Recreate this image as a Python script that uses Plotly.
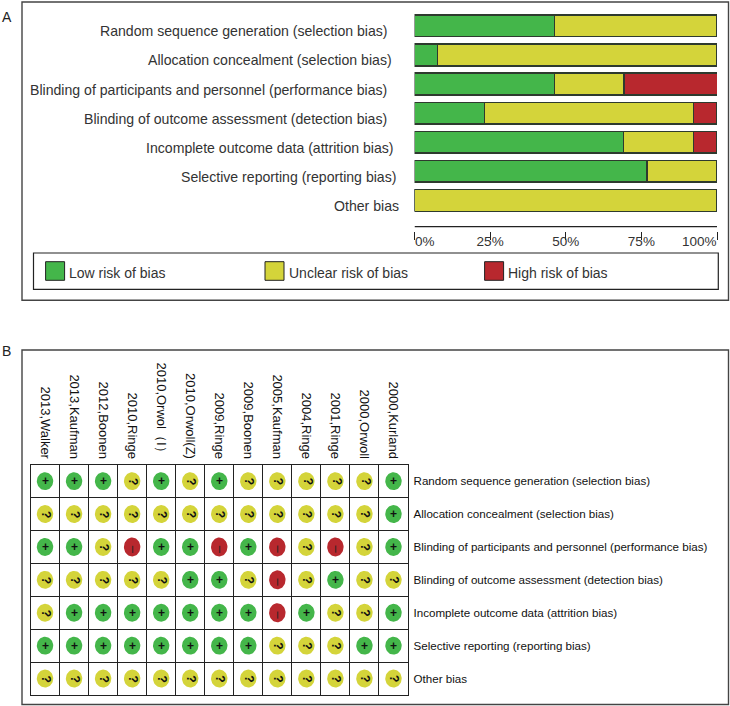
import numpy as np
import plotly.graph_objects as go

W, H = 730, 706

domains = [
    "Random sequence generation (selection bias)",
    "Allocation concealment (selection bias)",
    "Blinding of participants and personnel (performance bias)",
    "Blinding of outcome assessment (detection bias)",
    "Incomplete outcome data (attrition bias)",
    "Selective reporting (reporting bias)",
    "Other bias",
]
low_pct = [46.2, 7.7, 46.2, 23.1, 69.2, 76.9, 0]
unclear_pct = [53.8, 92.3, 23.1, 69.2, 23.1, 23.1, 100]
high_pct = [0, 0, 30.8, 7.7, 7.7, 0, 0]
studies = ["2013,Walker", "2013,Kaufman", "2012,Boonen", "2010,Ringe", "2010,Orwol（Ⅰ）",
           "2010,Orwoll(Z)", "2009,Ringe", "2009,Boonen", "2005,Kaufman", "2004,Ringe",
           "2001,Ringe", "2000,Orwoll", "2000,Kurland"]
judgements = [
    "+ + + ? + ? + ? ? ? ? ? +".split(),
    "? ? ? ? ? ? ? ? ? ? ? ? +".split(),
    "+ + ? - + + - + - ? - ? +".split(),
    "? ? ? ? ? + + ? - ? + ? ?".split(),
    "? + + + + + + + - + ? ? +".split(),
    "+ + + + + + + + ? ? ? + +".split(),
    "? ? ? ? ? ? ? ? ? ? ? ? ?".split(),
]
legend_names = ["Low risk of bias", "Unclear risk of bias", "High risk of bias"]
pct_ticks = [0, 25, 50, 75, 100]

GREEN, YELLOW, RED = "#44B64A", "#D4D43A", "#B8282E"
DARK = "#333333"
FONT = "Liberation Sans"


def px(x):
    return x / W


def py(y):
    return 1 - y / H


fig = go.Figure()

# Panel A: stacked bars
for vals, col, name in zip((low_pct, unclear_pct, high_pct), (GREEN, YELLOW, RED), legend_names):
    fig.add_trace(go.Bar(y=domains, x=vals, orientation="h", name=name, xaxis="x", yaxis="y",
                         marker=dict(color=col, line=dict(color="#2E3A2E", width=1.3)),
                         showlegend=False, hoverinfo="x+y"))

# Panel B: ellipses + glyphs
RX, RY = 0.283, 0.272
t = np.linspace(0, 2 * np.pi, 49)
for code, col, ry in (("+", GREEN, RY), ("?", YELLOW, RY), ("-", RED, RY * 1.06)):
    xs, ys = [], []
    for r, row in enumerate(judgements):
        for c, v in enumerate(row):
            if v == code:
                xs += list(c + RX * np.cos(t)) + [None]
                ys += list(r + ry * np.sin(t)) + [None]
    fig.add_trace(go.Scatter(x=xs, y=ys, mode="lines", fill="toself", fillcolor=col,
                             line=dict(width=0), xaxis="x2", yaxis="y2",
                             showlegend=False, hoverinfo="skip"))

anns = []
for r, row in enumerate(judgements):
    for c, v in enumerate(row):
        if v == "+":
            anns.append(dict(x=c, y=r, xref="x2", yref="y2", text="<b>+</b>", showarrow=False,
                             font=dict(size=12, color="#111", family=FONT)))
        elif v == "?":
            anns.append(dict(x=c, y=r, xshift=1, xref="x2", yref="y2", text="<b>?</b>", showarrow=False,
                             textangle=90, font=dict(size=12, color="#111", family=FONT)))
        else:
            anns.append(dict(x=c, y=r, xshift=1, yshift=-3, xref="x2", yref="y2", text="–", showarrow=False,
                             textangle=90, font=dict(size=13, color="#222", family=FONT)))

# Panel A row labels (right edges are uneven in the reference)
label_right = [390, 393.5, 389, 389, 395.5, 398, 400.5]
for name, xr in zip(domains, label_right):
    anns.append(dict(x=px(xr), y=name, xref="paper", yref="y", xanchor="right", text=name, showarrow=False,
                     yshift=-5.5, font=dict(size=14.1, color=DARK, family=FONT)))

# Axis end labels
anns.append(dict(x=0, y=py(241.5), xref="x", yref="paper", xanchor="left", yanchor="middle", text="0%",
                 showarrow=False, xshift=-2, font=dict(size=13.5, color=DARK, family=FONT)))
anns.append(dict(x=100, y=py(241.5), xref="x", yref="paper", xanchor="right", yanchor="middle", text="100%",
                 showarrow=False, xshift=2, font=dict(size=13.5, color=DARK, family=FONT)))

# Panel letters
anns.append(dict(x=px(0), y=py(7), xref="paper", yref="paper", xanchor="left", text="A", showarrow=False,
                 font=dict(size=14, color="#222", family=FONT)))
anns.append(dict(x=px(0), y=py(351), xref="paper", yref="paper", xanchor="left", text="B", showarrow=False,
                 font=dict(size=14, color="#222", family=FONT)))

shapes = [
    dict(type="rect", xref="paper", yref="paper", x0=px(22), x1=px(728.5), y0=py(2), y1=py(300.3),
         line=dict(color="#444", width=1.4)),
    dict(type="rect", xref="paper", yref="paper", x0=px(22), x1=px(728.5), y0=py(350), y1=py(704.5),
         line=dict(color="#444", width=1.4)),
    dict(type="rect", xref="paper", yref="paper", x0=px(33.5), x1=px(718.3), y0=py(253), y1=py(289.3),
         line=dict(color="#222", width=1.2)),
    dict(type="line", xref="x", yref="paper", x0=0, x1=100, y0=py(226.7), y1=py(226.7),
         line=dict(color="#222", width=1.2)),
]

# Legend of panel A
for name, col, x0 in zip(legend_names, (GREEN, YELLOW, RED), (45.6, 265, 484.6)):
    shapes.append(dict(type="rect", xref="paper", yref="paper", x0=px(x0), x1=px(x0 + 19),
                       y0=py(261.7), y1=py(280.3), fillcolor=col, line=dict(color="#222", width=1)))
    anns.append(dict(x=px(x0 + 21.5), y=py(273), xref="paper", yref="paper", xanchor="left", yanchor="middle",
                     text=name, showarrow=False, font=dict(size=14, color=DARK, family=FONT)))

n_cols, n_rows = len(studies), len(domains)
fig.update_layout(
    width=W, height=H, margin=dict(l=0, r=0, t=0, b=0),
    paper_bgcolor="white", plot_bgcolor="white",
    barmode="stack", bargap=0.25, showlegend=False,
    font=dict(family=FONT),
    annotations=anns, shapes=shapes,
    xaxis=dict(domain=[px(414.5), px(717)], range=[0, 100], anchor="free", position=py(231),
               tickmode="array", tickvals=pct_ticks, ticktext=["", "25%", "50%", "75%", ""],
               ticks="outside", ticklen=8, tickwidth=1.2, tickcolor="#222",
               showgrid=False, zeroline=False, showline=False,
               tickfont=dict(size=13.5, color=DARK, family=FONT), ticklabelstandoff=-10),
    yaxis=dict(domain=[py(214.8), py(10.4)], autorange="reversed", showticklabels=False,
               showgrid=False, zeroline=False, ticks="", categoryorder="array", categoryarray=domains),
    xaxis2=dict(domain=[px(30.5), px(408)], range=[-0.5, n_cols - 0.5], anchor="y2", side="top",
                tickmode="array", tickvals=list(range(n_cols)), ticktext=studies, tickangle=90,
                tickfont=dict(size=13, color="#111", family=FONT),
                showgrid=False, zeroline=False, showline=True, mirror=True, linecolor="#222", linewidth=1.4,
                ticks="",
                minor=dict(tickvals=list(np.arange(0.5, n_cols - 1)), showgrid=True, gridcolor="#222",
                           gridwidth=1.3, ticks="")),
    yaxis2=dict(domain=[py(695), py(464.7)], range=[n_rows - 0.5, -0.5], anchor="x2", side="right",
                tickmode="array", tickvals=list(range(n_rows)), ticktext=domains,
                tickfont=dict(size=11.6, color="#111", family=FONT), ticklabelstandoff=2,
                showgrid=False, zeroline=False, showline=True, mirror=True, linecolor="#222", linewidth=1.4,
                ticks="",
                minor=dict(tickvals=list(np.arange(0.5, n_rows - 1)), showgrid=True, gridcolor="#222",
                           gridwidth=1.3, ticks="")),
)

fig.write_html("out.html", config=dict(displayModeBar=False),
               post_script="document.body.style.margin='0';")
